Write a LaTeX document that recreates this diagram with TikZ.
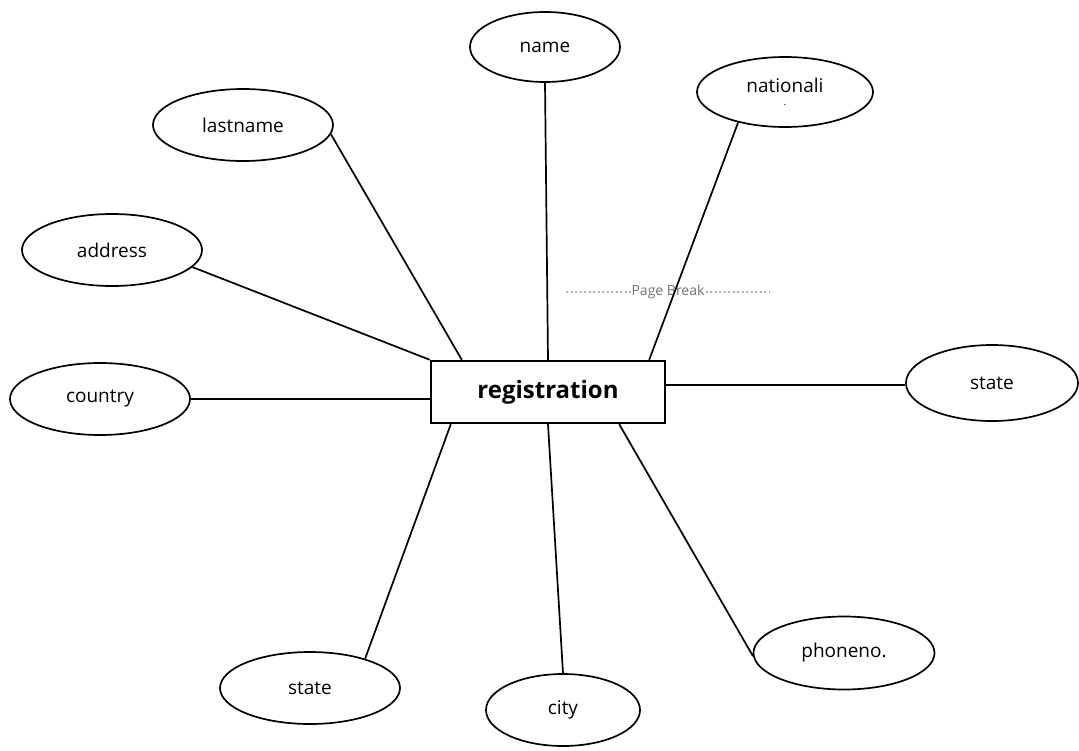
\documentclass[tikz,border=0pt]{standalone}
\usepackage{fontspec}
\setmainfont{Open Sans}
\usetikzlibrary{calc,shapes.geometric}

\tikzset{
	attr/.style={ellipse, draw, line width=1.7pt, inner sep=0pt,
		minimum width=#1, minimum height=72pt, font=\fontsize{19}{21}\selectfont},
	attr/.default=180pt,
	entity/.style={rectangle, draw, line width=2.4pt, minimum width=234pt,
		minimum height=62pt, font=\fontsize{24}{26}\selectfont\bfseries},
	link/.style={line width=1.7pt}
}

\begin{document}
\begin{tikzpicture}[x=1pt,y=-1pt]
	\useasboundingbox (0,0) rectangle (1079,750);
	
	%page break mark
	\draw[gray!60, line width=1.2pt, dash pattern=on 2pt off 2.5pt] (566,292) -- (770,292);
	\node[fill=white, text=gray!90!black, inner sep=1pt, font=\fontsize{14}{16}\selectfont] (pb) at (668,292) {Page Break};
	
	%entity
	\node[entity] (reg) at (548,392) {registration};
	
	%top - nodes
	\node[attr=150pt, minimum height=70pt] (name) at (545,47) {name};
	\node[attr=176pt, minimum height=70pt, align=center] (nat) at (785,92) {nationali\\[-8pt]{\fontsize{10}{10}\selectfont .}};
	\node[attr] (last) at (243,125) {lastname};
	\node[attr] (addr) at (112,250) {address};
	
	%sides - nodes
	\node[attr] (country) at (100,399) {country};
	\node[attr=172pt, minimum height=76pt] (stateR) at (992,383) {state};
	
	%bottom - nodes
	\node[attr] (stateL) at (310,688) {state};
	\node[attr=154pt] (city) at (563,710) {city};
	\node[attr=181pt, minimum height=73pt] (phone) at (844,653) {phoneno.};
	
		%lines
		\draw[link] (reg.north) -- (name.south);						%reg--name
		\draw[link] ([xshift=-17pt]reg.north east) -- (nat.213);		%reg--nationali
		\draw[link] ([xshift=32pt]reg.north west) -- (last.-6);		%reg--lastname
		\draw[link] (reg.north west) -- (addr.-12);					%reg--address
		\draw[link] (country.east) -- (country.east -| reg.west);		%reg--country
		\draw[link] ([yshift=-2pt]stateR.west) -- ([yshift=-2pt]stateR.west -| reg.east);	%reg--state
		\draw[link] ([xshift=21pt]reg.south west) -- (stateL.28);		%reg--state
		\draw[link] (reg.south) -- (city.north);						%reg--city
		\draw[link] ([xshift=-47pt]reg.south east) -- (phone.182);	%reg--phoneno
\end{tikzpicture}
\end{document}
